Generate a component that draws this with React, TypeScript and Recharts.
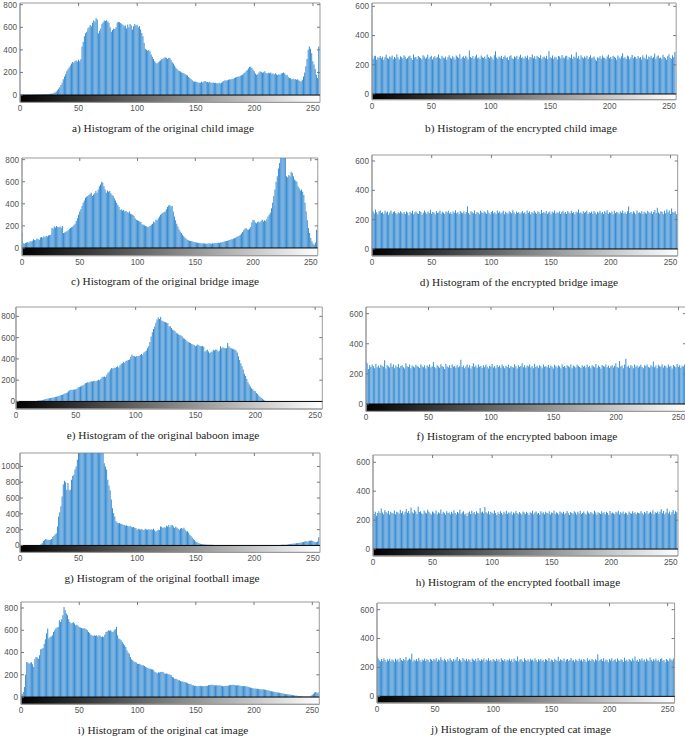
import React from "react";
import { BarChart, Bar, XAxis, YAxis, ReferenceArea, ReferenceLine } from "recharts";

// grey levels 0..255 are the bar positions; each array below is one histogram (counts per level)

const childOrig = [
  2, 1, 1, 2, 1, 2, 2, 3, 2, 3, 3, 4, 3, 4, 5, 4,
  5, 6, 5, 7, 6, 8, 8, 9, 10, 9, 11, 12, 14, 18, 24, 32,
  42, 55, 70, 88, 110, 140, 165, 185, 210, 228, 245, 262, 280, 292, 288, 300,
  306, 296, 312, 300, 318, 430, 470, 520, 548, 560, 590, 600, 620, 610, 640, 660,
  652, 680, 670, 548, 570, 590, 632, 645, 660, 655, 662, 650, 640, 600, 560, 575,
  590, 585, 600, 640, 650, 645, 638, 630, 620, 610, 615, 590, 625, 600, 630, 615,
  580, 610, 628, 615, 622, 600, 612, 580, 550, 520, 460, 410, 400, 392, 398, 385,
  360, 340, 320, 300, 285, 280, 290, 300, 305, 318, 322, 330, 335, 328, 320, 330,
  325, 310, 290, 280, 262, 245, 232, 220, 212, 208, 200, 198, 192, 185, 180, 172,
  160, 150, 142, 132, 122, 118, 120, 115, 112, 108, 110, 118, 112, 120, 125, 118,
  115, 112, 118, 110, 108, 112, 106, 110, 104, 105, 108, 102, 110, 118, 125, 130,
  128, 132, 136, 140, 138, 145, 142, 150, 155, 160, 165, 162, 170, 175, 180, 190,
  200, 210, 222, 235, 248, 250, 240, 225, 210, 190, 180, 185, 200, 210, 205, 198,
  202, 210, 195, 190, 198, 192, 200, 188, 190, 185, 192, 182, 178, 185, 180, 190,
  195, 200, 190, 175, 180, 160, 150, 148, 140, 145, 138, 142, 135, 140, 130, 125,
  120, 135, 165, 200, 255, 320, 400, 430, 410, 370, 300, 270, 230, 180, 150, 430,
];

const childEnc = [
  265, 240, 258, 262, 235, 250, 248, 260, 244, 255, 232, 252, 268, 247, 241, 256,
  250, 263, 238, 254, 245, 272, 249, 236, 258, 251, 243, 266, 255, 239, 247, 257,
  262, 246, 233, 271, 249, 254, 240, 260, 252, 247, 238, 265, 256, 243, 250, 268,
  241, 254, 262, 236, 249, 258, 245, 253, 270, 247, 239, 261, 250, 244, 257, 235,
  252, 266, 248, 241, 259, 250, 237, 263, 255, 246, 272, 240, 251, 258, 244, 262,
  249, 236, 298, 254, 247, 260, 241, 256, 268, 245, 250, 239, 263, 252, 246, 257,
  240, 271, 253, 244, 258, 249, 237, 265, 293, 250, 242, 256, 248, 261, 239, 254,
  263, 247, 251, 233, 258, 266, 245, 240, 257, 250, 262, 238, 255, 269, 246, 252,
  241, 259, 248, 263, 236, 254, 250, 271, 244, 258, 239, 262, 253, 247, 266, 240,
  251, 257, 245, 261, 238, 295, 252, 246, 264, 241, 255, 249, 237, 260, 256, 243,
  267, 250, 244, 258, 262, 236, 253, 247, 270, 241, 256, 249, 286, 245, 258, 238,
  265, 251, 243, 256, 248, 261, 239, 254, 266, 244, 250, 257, 237, 228, 252, 246,
  259, 241, 263, 250, 247, 238, 256, 269, 244, 253, 240, 261, 255, 248, 235, 264,
  250, 243, 258, 279, 246, 252, 240, 263, 256, 238, 249, 267, 244, 255, 251, 239,
  260, 247, 254, 236, 266, 250, 243, 271, 238, 257, 249, 262, 245, 252, 277, 240,
  256, 263, 244, 250, 239, 268, 253, 246, 235, 259, 272, 248, 241, 265, 252, 287,
];

const bridgeOrig = [
  135, 42, 38, 45, 50, 55, 48, 60, 58, 65, 80, 72, 70, 85, 78, 75,
  95, 100, 92, 105, 98, 110, 104, 112, 118, 120, 180, 175, 195, 185, 200, 190,
  188, 195, 182, 198, 135, 140, 148, 152, 160, 172, 180, 188, 195, 205, 220, 245,
  270, 300, 330, 350, 380, 410, 430, 455, 465, 470, 480, 490, 500, 470, 485, 495,
  515, 500, 530, 560, 575, 600, 590, 560, 530, 500, 520, 510, 515, 495, 480, 470,
  450, 430, 410, 390, 370, 345, 350, 340, 345, 330, 335, 325, 320, 330, 310, 305,
  300, 290, 270, 255, 250, 245, 240, 235, 215, 210, 205, 200, 195, 190, 195, 200,
  210, 220, 240, 230, 255, 250, 270, 285, 300, 310, 320, 325, 330, 350, 370, 385,
  390, 375, 380, 330, 285, 250, 220, 195, 170, 150, 135, 120, 105, 95, 85, 75,
  70, 65, 62, 60, 58, 55, 52, 50, 48, 45, 44, 42, 40, 42, 40, 38,
  40, 38, 42, 40, 38, 42, 40, 44, 42, 45, 48, 45, 50, 52, 55, 58,
  60, 62, 65, 70, 72, 78, 80, 85, 88, 92, 100, 105, 110, 120, 130, 145,
  160, 175, 180, 168, 165, 175, 190, 230, 255, 250, 230, 225, 235, 240, 230, 245,
  255, 240, 250, 245, 260, 285, 300, 320, 360, 410, 470, 530, 600, 650, 720, 770,
  830, 900, 880, 850, 840, 650, 640, 660, 650, 690, 680, 650, 620, 610, 600, 560,
  540, 520, 530, 510, 480, 410, 330, 250, 180, 135, 90, 60, 40, 30, 50, 165,
];

const bridgeEnc = [
  268, 255, 242, 270, 250, 236, 258, 263, 245, 251, 239, 260, 247, 256, 233, 249,
  262, 240, 253, 258, 246, 236, 251, 244, 257, 249, 241, 252, 238, 255, 248, 230,
  254, 243, 261, 237, 250, 256, 244, 239, 259, 252, 233, 247, 262, 250, 238, 255,
  245, 268, 241, 253, 249, 236, 258, 246, 251, 263, 240, 254, 247, 239, 256, 248,
  260, 242, 250, 238, 255, 247, 264, 243, 251, 237, 259, 249, 244, 256, 240, 253,
  291, 246, 235, 258, 250, 244, 262, 239, 253, 247, 236, 260, 251, 243, 257, 249,
  241, 265, 248, 237, 252, 259, 244, 250, 238, 263, 247, 255, 242, 249, 261, 236,
  254, 246, 240, 258, 251, 243, 264, 249, 237, 256, 245, 252, 240, 248, 259, 243,
  250, 239, 262, 247, 255, 236, 253, 244, 260, 248, 241, 257, 250, 238, 265, 246,
  252, 243, 259, 240, 249, 256, 237, 254, 247, 263, 242, 251, 245, 258, 239, 250,
  261, 244, 252, 238, 257, 249, 242, 260, 246, 253, 237, 255, 248, 270, 243, 251,
  240, 258, 247, 253, 262, 239, 250, 245, 256, 241, 259, 248, 236, 254, 247, 260,
  243, 252, 238, 257, 249, 264, 241, 250, 246, 255, 237, 261, 244, 253, 248, 239,
  256, 247, 263, 242, 250, 238, 258, 289, 245, 252, 240, 257, 249, 236, 262, 246,
  251, 243, 259, 238, 254, 247, 241, 260, 250, 244, 256, 239, 253, 266, 245, 281,
  248, 240, 257, 252, 236, 261, 244, 270, 250, 262, 239, 276, 253, 247, 258, 236,
];

const baboonOrig = [
  0, 0, 0, 0, 0, 0, 0, 0, 0, 0, 0, 0, 0, 0, 0, 0,
  2, 4, 6, 8, 10, 12, 14, 16, 18, 22, 25, 28, 30, 32, 35, 38,
  40, 42, 45, 48, 52, 58, 60, 62, 68, 75, 80, 85, 95, 105, 110, 108,
  112, 110, 115, 120, 130, 135, 140, 148, 150, 160, 170, 175, 180, 178, 185, 190,
  188, 192, 195, 190, 198, 205, 200, 210, 228, 232, 235, 230, 250, 270, 282, 300,
  315, 310, 318, 315, 325, 330, 320, 340, 355, 360, 370, 365, 380, 385, 390, 395,
  420, 440, 430, 425, 420, 428, 425, 430, 440, 445, 435, 460, 470, 480, 500, 520,
  560, 610, 650, 680, 705, 740, 770, 790, 775, 795, 760, 755, 750, 745, 740, 735,
  705, 710, 690, 675, 670, 660, 645, 640, 630, 625, 620, 610, 595, 590, 580, 565,
  560, 555, 550, 540, 535, 530, 520, 525, 535, 528, 520, 518, 522, 515, 470, 480,
  485, 470, 455, 462, 470, 485, 480, 488, 485, 470, 480, 520, 500, 510, 502, 500,
  500, 550, 520, 505, 500, 495, 490, 488, 480, 460, 425, 390, 360, 330, 300, 260,
  240, 210, 180, 160, 140, 125, 115, 100, 95, 80, 70, 55, 45, 35, 25, 15,
  8, 5, 2, 1, 0, 0, 0, 0, 0, 0, 0, 0, 0, 0, 0, 0,
  0, 0, 0, 0, 0, 0, 0, 0, 0, 0, 0, 0, 0, 0, 0, 0,
  0, 0, 0, 0, 0, 0, 0, 0, 0, 0, 0, 0, 0, 0, 0, 0,
];

const baboonEnc = [
  285, 270, 232, 258, 245, 262, 250, 238, 268, 244, 256, 240, 261, 252, 247, 290,
  236, 259, 250, 243, 271, 248, 262, 238, 255, 246, 265, 241, 252, 258, 244, 235,
  270, 251, 245, 263, 238, 256, 249, 242, 260, 253, 247, 239, 264, 250, 244, 257,
  236, 255, 248, 262, 243, 251, 279, 246, 238, 258, 249, 241, 264, 252, 245, 233,
  268, 250, 243, 257, 239, 262, 247, 253, 240, 259, 244, 251, 293, 246, 255, 238,
  249, 262, 242, 258, 236, 251, 270, 245, 256, 240, 263, 248, 252, 239, 257, 244,
  261, 247, 235, 254, 249, 266, 243, 252, 238, 259, 246, 255, 241, 263, 250, 237,
  254, 245, 260, 239, 252, 248, 241, 264, 250, 236, 257, 246, 253, 271, 244, 258,
  240, 255, 249, 262, 243, 252, 238, 267, 246, 254, 241, 258, 250, 237, 263, 247,
  252, 244, 259, 240, 256, 248, 235, 261, 251, 243, 257, 249, 238, 264, 246, 253,
  241, 258, 250, 244, 262, 237, 255, 249, 243, 260, 252, 246, 239, 257, 248, 254,
  240, 262, 246, 253, 238, 257, 250, 244, 265, 241, 255, 248, 236, 259, 252, 247,
  263, 244, 256, 239, 250, 258, 243, 252, 270, 246, 241, 286, 249, 255, 238, 262,
  300, 247, 254, 241, 259, 250, 237, 263, 248, 255, 242, 251, 260, 245, 238, 257,
  252, 263, 246, 240, 258, 249, 283, 244, 256, 238, 261, 250, 247, 264, 243, 255,
  250, 240, 262, 247, 253, 236, 259, 251, 244, 266, 248, 257, 241, 254, 249, 262,
];

const footballOrig = [
  0, 0, 0, 0, 0, 0, 0, 0, 0, 0, 0, 0, 0, 0, 0, 0,
  2, 5, 15, 30, 55, 65, 80, 75, 72, 70, 72, 80, 105, 120, 140, 155,
  240, 365, 420, 495, 620, 770, 820, 800, 705, 790, 700, 705, 830, 880, 895, 960,
  1000, 1085, 1150, 1250, 1300, 1350, 1380, 1420, 1450, 1400, 1380, 1350, 1320, 1300, 1280, 1250,
  1230, 1260, 1250, 1220, 1210, 1200, 1190, 1180, 1040, 1000, 960, 830, 760, 700, 580, 470,
  410, 365, 305, 290, 280, 285, 275, 270, 262, 258, 250, 255, 245, 240, 248, 235,
  230, 232, 225, 220, 200, 210, 205, 200, 208, 195, 200, 210, 202, 198, 205, 200,
  205, 198, 210, 192, 175, 185, 200, 195, 240, 235, 220, 230, 225, 250, 240, 260,
  230, 255, 260, 240, 220, 235, 225, 210, 200, 215, 220, 210, 225, 200, 175, 180,
  160, 135, 120, 100, 80, 65, 50, 42, 30, 25, 20, 18, 15, 14, 12, 12,
  10, 10, 9, 8, 8, 7, 7, 6, 6, 5, 5, 5, 5, 5, 5, 4,
  4, 4, 4, 4, 4, 4, 3, 3, 3, 3, 3, 3, 3, 3, 3, 3,
  3, 3, 3, 3, 3, 3, 3, 3, 3, 3, 3, 3, 3, 3, 3, 3,
  3, 3, 4, 4, 4, 4, 5, 5, 5, 5, 6, 6, 6, 7, 7, 8,
  8, 9, 10, 10, 12, 14, 15, 18, 20, 22, 24, 25, 28, 30, 32, 35,
  38, 40, 45, 50, 55, 48, 52, 58, 60, 62, 55, 48, 40, 45, 50, 105,
];

const footballEnc = [
  265, 242, 258, 230, 250, 262, 247, 281, 253, 240, 268, 256, 245, 263, 238, 257,
  250, 246, 267, 241, 258, 252, 244, 272, 249, 262, 238, 256, 276, 251, 263, 245,
  288, 254, 247, 270, 259, 243, 292, 256, 262, 248, 240, 266, 253, 245, 271, 257,
  247, 238, 260, 252, 244, 266, 241, 255, 248, 274, 243, 258, 250, 237, 262, 249,
  253, 241, 257, 246, 268, 250, 239, 256, 247, 272, 244, 253, 261, 238, 246, 228,
  251, 259, 243, 265, 248, 256, 240, 262, 250, 245, 283, 252, 260, 247, 290, 254,
  246, 262, 239, 258, 251, 244, 267, 249, 236, 255, 243, 261, 250, 238, 257, 246,
  264, 242, 253, 248, 259, 237, 252, 245, 263, 250, 241, 256, 247, 239, 260, 253,
  243, 258, 250, 236, 255, 247, 264, 241, 252, 259, 244, 250, 237, 262, 248, 255,
  240, 257, 249, 245, 261, 238, 253, 250, 266, 243, 255, 248, 239, 260, 252, 246,
  258, 241, 250, 263, 247, 236, 256, 249, 244, 261, 252, 238, 257, 246, 265, 242,
  250, 259, 245, 238, 262, 251, 244, 256, 248, 240, 265, 252, 237, 255, 249, 243,
  261, 247, 254, 240, 258, 250, 236, 263, 245, 253, 248, 241, 257, 251, 265, 239,
  254, 246, 260, 242, 252, 248, 237, 259, 250, 244, 262, 247, 255, 240, 253, 249,
  245, 261, 250, 238, 256, 247, 263, 242, 251, 258, 246, 268, 240, 254, 249, 260,
  244, 257, 275, 248, 263, 240, 252, 281, 246, 259, 237, 255, 270, 243, 262, 254,
];

const catOrig = [
  25, 28, 45, 90, 200, 315, 310, 300, 305, 315, 295, 270, 345, 360, 355, 345,
  375, 430, 435, 440, 480, 520, 570, 615, 525, 540, 545, 555, 585, 600, 615, 625,
  630, 690, 675, 700, 735, 810, 780, 750, 735, 700, 675, 660, 665, 675, 660, 645,
  650, 640, 630, 625, 620, 615, 618, 615, 610, 600, 585, 575, 560, 555, 548, 555,
  550, 555, 545, 555, 550, 540, 545, 540, 560, 585, 590, 600, 595, 600, 590, 585,
  600, 610, 630, 555, 525, 520, 510, 495, 480, 465, 450, 420, 400, 390, 360, 340,
  330, 320, 315, 310, 300, 298, 300, 290, 285, 285, 278, 270, 265, 260, 255, 255,
  250, 248, 240, 225, 220, 215, 222, 220, 225, 228, 225, 215, 210, 212, 210, 205,
  200, 195, 180, 175, 165, 165, 160, 150, 150, 145, 140, 140, 135, 132, 130, 125,
  120, 118, 115, 105, 105, 100, 102, 100, 98, 100, 102, 98, 100, 97, 100, 102,
  100, 105, 108, 110, 110, 108, 105, 103, 105, 104, 106, 103, 102, 100, 98, 100,
  102, 100, 104, 106, 110, 108, 110, 108, 105, 104, 106, 105, 102, 100, 100, 98,
  100, 98, 96, 92, 88, 85, 82, 80, 78, 76, 75, 74, 72, 71, 70, 68,
  70, 68, 66, 64, 60, 58, 55, 52, 50, 48, 46, 44, 42, 40, 38, 36,
  34, 32, 30, 28, 26, 25, 24, 22, 20, 18, 16, 15, 14, 12, 10, 9,
  8, 8, 7, 6, 6, 5, 5, 6, 8, 12, 20, 30, 40, 45, 38, 42,
];

const catEnc = [
  278, 262, 250, 241, 258, 245, 263, 252, 238, 256, 247, 260, 243, 255, 250, 237,
  261, 248, 256, 240, 265, 251, 244, 258, 249, 272, 246, 253, 262, 255, 296, 240,
  254, 247, 259, 243, 266, 250, 238, 255, 248, 262, 244, 257, 251, 237, 260, 253,
  245, 258, 249, 264, 242, 255, 248, 270, 253, 244, 261, 250, 239, 257, 246, 263,
  250, 242, 259, 247, 255, 273, 244, 258, 250, 239, 265, 253, 247, 260, 243, 256,
  249, 238, 262, 254, 246, 258, 241, 266, 250, 244, 257, 249, 262, 240, 255, 248,
  263, 245, 252, 239, 258, 250, 243, 261, 247, 255, 238, 264, 251, 246, 257, 242,
  253, 248, 260, 244, 256, 237, 262, 250, 245, 276, 241, 253, 259, 247, 238, 264,
  252, 245, 257, 241, 260, 249, 255, 243, 263, 250, 238, 256, 248, 261, 244, 252,
  240, 258, 253, 246, 266, 242, 255, 249, 237, 260, 251, 245, 274, 243, 256, 250,
  247, 262, 239, 254, 258, 244, 251, 265, 246, 253, 240, 257, 249, 243, 261, 248,
  255, 242, 259, 250, 238, 264, 247, 253, 245, 260, 251, 239, 257, 248, 291, 244,
  252, 259, 245, 263, 241, 255, 250, 236, 258, 248, 264, 243, 251, 256, 240, 262,
  249, 244, 257, 251, 238, 267, 246, 254, 241, 259, 250, 243, 262, 248, 276, 245,
  253, 240, 258, 250, 263, 246, 255, 239, 260, 249, 244, 269, 251, 241, 256, 248,
  262, 245, 253, 240, 258, 264, 247, 251, 236, 259, 250, 243, 262, 255, 248, 262,
];

const xTicks = [0, 50, 100, 150, 200, 250];
const ticks800 = [0, 200, 400, 600, 800];
const ticks600 = [0, 200, 400, 600];
const ticks1000 = [0, 200, 400, 600, 800, 1000];

const captions = [
  "a) Histogram of the original child image",
  "b) Histogram of the encrypted child image",
  "c) Histogram of the original bridge image",
  "d) Histogram of the encrypted bridge image",
  "e) Histogram of the original baboon image",
  "f) Histogram of the encrypted baboon image",
  "g) Histogram of the original football image",
  "h) Histogram of the encrypted football image",
  "i) Histogram of the original cat image",
  "j) Histogram of the encrypted cat image",
];

// layout: plot box in page pixels, y range incl. the grey ramp under zero
const panels = [
  { values: childOrig, left: 20, right: 320, top: 3.3, bottom: 102.7, yMin: -65, yMax: 815, yTicks: ticks800, capX: 163, capY: 128, labelGap: 6 },
  { values: childEnc, left: 372.3, right: 676.5, top: 3.3, bottom: 100, yMin: -39, yMax: 623, yTicks: ticks600, capX: 521, capY: 128, labelGap: 6 },
  { values: bridgeOrig, left: 21.7, right: 317.5, top: 158.3, bottom: 256, yMin: -70, yMax: 815, yTicks: ticks800, capX: 165, capY: 281, labelGap: 6 },
  { values: bridgeEnc, left: 372.3, right: 678, top: 155, bottom: 256, yMin: -48, yMax: 641, yTicks: ticks600, capX: 519, capY: 282, labelGap: 6 },
  { values: baboonOrig, left: 16, right: 322.3, top: 307.3, bottom: 409.3, yMin: -71, yMax: 888, yTicks: ticks800, capX: 163, capY: 435, labelGap: 4 },
  { values: baboonEnc, left: 366, right: 686, top: 307.3, bottom: 411.7, yMin: -49, yMax: 644, yTicks: ticks600, capX: 517, capY: 436, labelGap: 6 },
  { values: footballOrig, left: 20, right: 320, top: 453.3, bottom: 552.7, yMin: -88, yMax: 1170, yTicks: ticks1000, capX: 162, capY: 578, labelGap: 3.5 },
  { values: footballEnc, left: 373.3, right: 678.3, top: 455, bottom: 556, yMin: -48, yMax: 650, yTicks: ticks600, capX: 518, capY: 582, labelGap: 6 },
  { values: catOrig, left: 21, right: 319.3, top: 601.7, bottom: 704, yMin: -65, yMax: 854, yTicks: ticks800, capX: 163, capY: 730, labelGap: 6 },
  { values: catEnc, left: 376.7, right: 674.3, top: 603.3, bottom: 703.3, yMin: -46, yMax: 646, yTicks: ticks600, capX: 521, capY: 729, labelGap: 6 },
];

const tickFont = { fontSize: 8.2, fill: "#555", fontFamily: "Liberation Sans, Arial, sans-serif" };
const boxColor = "#9a9a9a";

type PanelProps = { p: (typeof panels)[number]; idx: number };

function Histogram({ p, idx }: PanelProps) {
  const padL = 40;
  const padT = 4;
  const padR = 4;
  const axH = 18;
  const w = p.right - p.left;
  const h = p.bottom - p.top;
  const data = p.values.map((v, i) => ({ level: i, count: v }));
  const gid = `ramp${idx}`;
  // 3px inward tick marks on the top and right edges, in data units
  const dy = (3 * (p.yMax - p.yMin)) / h;
  const dx = (3 * 256) / w;

  return (
    <div style={{ position: "absolute", left: p.left - padL, top: p.top - padT }}>
      <BarChart
        width={w + padL + padR}
        height={h + padT + axH}
        data={data}
        margin={{ top: padT, right: padR, bottom: 0, left: 0 }}
        barCategoryGap={0}
      >
        <defs>
          <linearGradient id={gid} x1="0" y1="0" x2="1" y2="0">
            <stop offset="0%" stopColor="#000" />
            <stop offset="100%" stopColor="#fff" />
          </linearGradient>
        </defs>
        <XAxis
          dataKey="level"
          type="number"
          domain={[0, 256]}
          ticks={xTicks}
          allowDataOverflow
          height={axH}
          tick={tickFont}
          tickLine={false}
          tickSize={0}
          tickMargin={3}
          axisLine={{ stroke: boxColor }}
        />
        <YAxis
          type="number"
          domain={[p.yMin, p.yMax]}
          ticks={p.yTicks}
          allowDataOverflow
          width={padL}
          tick={tickFont}
          tickSize={-3}
          tickMargin={p.labelGap}
          tickLine={{ stroke: "#777" }}
          axisLine={{ stroke: boxColor }}
        />
        <ReferenceArea x1={0} x2={256} y1={p.yMin} y2={0} fill={`url(#${gid})`} fillOpacity={1} stroke="none" />
        <Bar dataKey="count" fill="#3a8dd2" isAnimationActive={false} />
        <ReferenceLine y={0} stroke="#000" strokeWidth={1} />
        <ReferenceArea x1={0} x2={256} y1={p.yMin} y2={p.yMax} fill="none" fillOpacity={0} stroke={boxColor} strokeWidth={1} />
        {xTicks.slice(1).map((t) => (
          <ReferenceLine
            key={`tx${t}`}
            segment={[{ x: t, y: p.yMax }, { x: t, y: p.yMax - dy }]}
            stroke="#777"
          />
        ))}
        {p.yTicks.slice(1).map((t) => (
          <ReferenceLine
            key={`ty${t}`}
            segment={[{ x: 256, y: t }, { x: 256 - dx, y: t }]}
            stroke="#777"
          />
        ))}
      </BarChart>
    </div>
  );
}

export default function App() {
  return (
    <div style={{ position: "absolute", left: 0, top: 0, width: 685, height: 739, background: "#fff", overflow: "hidden" }}>
      {panels.map((p, i) => (
        <React.Fragment key={i}>
          <Histogram p={p} idx={i} />
          <div
            style={{
              position: "absolute",
              left: p.capX - 160,
              top: p.capY - 8,
              width: 320,
              textAlign: "center",
              fontFamily: "Liberation Serif, 'Times New Roman', serif",
              fontSize: 11.3,
              lineHeight: "16px",
              color: "#222",
              whiteSpace: "nowrap",
            }}
          >
            {captions[i]}
          </div>
        </React.Fragment>
      ))}
    </div>
  );
}
